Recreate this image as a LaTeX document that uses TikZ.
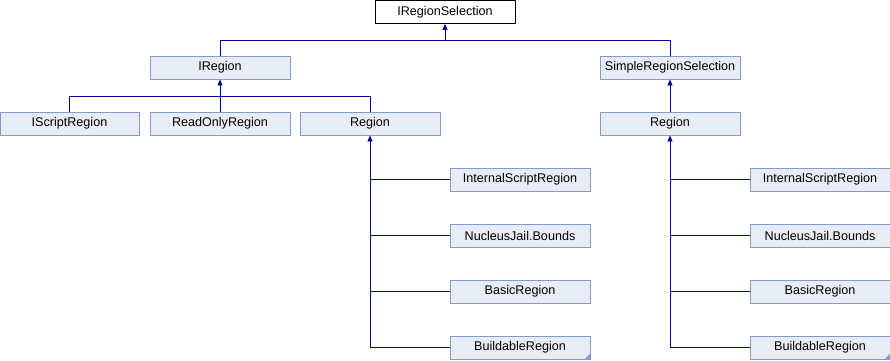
\documentclass[tikz,border=0pt]{standalone}
\usepackage{fontspec}
\setmainfont{Liberation Sans}
\usetikzlibrary{arrows.meta}

\definecolor{boxfill}{RGB}{232,236,245}
\definecolor{boxline}{RGB}{132,154,204}
\definecolor{edgeblue}{RGB}{0,0,145}

\tikzset{
  cls/.style = {draw = boxline, fill = boxfill, line width = .9pt,
                minimum width = 140pt, minimum height = 23pt, inner sep = 0pt,
                font = \fontsize{12.6}{14}\selectfont},
  rootcls/.style = {cls, draw = black, fill = white},
  link/.style = {draw = edgeblue, line width = .9pt},
  inherit/.style = {link, -{Triangle[length = 6pt, width = 5pt]}}
}

\begin{document}
\begin{tikzpicture}[x = 1pt, y = -1pt]
        \useasboundingbox (0,0) rectangle (890,360);

        % base interface and first level
        \node[rootcls] (sel) at (445,12) {IRegionSelection};
        \node[cls] (ireg) at (220,67.5) {IRegion};
        \node[cls] (simple) at (670,67.5) {SimpleRegionSelection};

        % second level
        \node[cls, minimum width = 139pt] (iscript) at (69.5,123.5) {IScriptRegion};
        \node[cls] (readonly) at (220,123.5) {ReadOnlyRegion};
        \node[cls] (reg) at (370,123.5) {Region};
        \node[cls] (regb) at (670,123.5) {Region};

        % classes under both Region boxes
        \node[cls] (intl) at (520,179.5) {InternalScriptRegion};
        \node[cls] (nucl) at (520,235.5) {NucleusJail.Bounds};
        \node[cls] (basicl) at (520,291.5) {BasicRegion};
        \node[cls] (buildl) at (520,347.5) {BuildableRegion};
        \node[cls] (intr) at (820,179.5) {InternalScriptRegion};
        \node[cls] (nucr) at (820,235.5) {NucleusJail.Bounds};
        \node[cls] (basicr) at (820,291.5) {BasicRegion};
        \node[cls] (buildr) at (820,347.5) {BuildableRegion};

        % folded corners
        \foreach \b in {buildl, buildr}
          \fill[boxline] (\b.south east) -- ++(-6,0) -- ++(6,-6) -- cycle;

        % IRegionSelection
        \coordinate (j1) at (445,40.5);
        \draw[link] (ireg.north) |- (j1) -| (simple.north);
        \draw[inherit] (j1) -- (sel.south);

        % IRegion
        \coordinate (j2) at (220,96.5);
        \draw[link] (iscript.north) |- (j2) -| (reg.north);
        \draw[link] (readonly.north) -- (j2);
        \draw[inherit] (j2) -- (ireg.south);

        % SimpleRegionSelection
        \draw[inherit] (regb.north) -- (simple.south);

        % both Region boxes
        \draw[inherit] (reg.south |- buildl.west) -- (reg.south);
        \draw[link] (reg.south |- buildl.west) -- (buildl.west);
        \foreach \c in {intl, nucl, basicl}
          \draw[link] (reg.south |- \c.west) -- (\c.west);
        \draw[inherit] (regb.south |- buildr.west) -- (regb.south);
        \draw[link] (regb.south |- buildr.west) -- (buildr.west);
        \foreach \c in {intr, nucr, basicr}
          \draw[link] (regb.south |- \c.west) -- (\c.west);
      \end{tikzpicture}
\end{document}
